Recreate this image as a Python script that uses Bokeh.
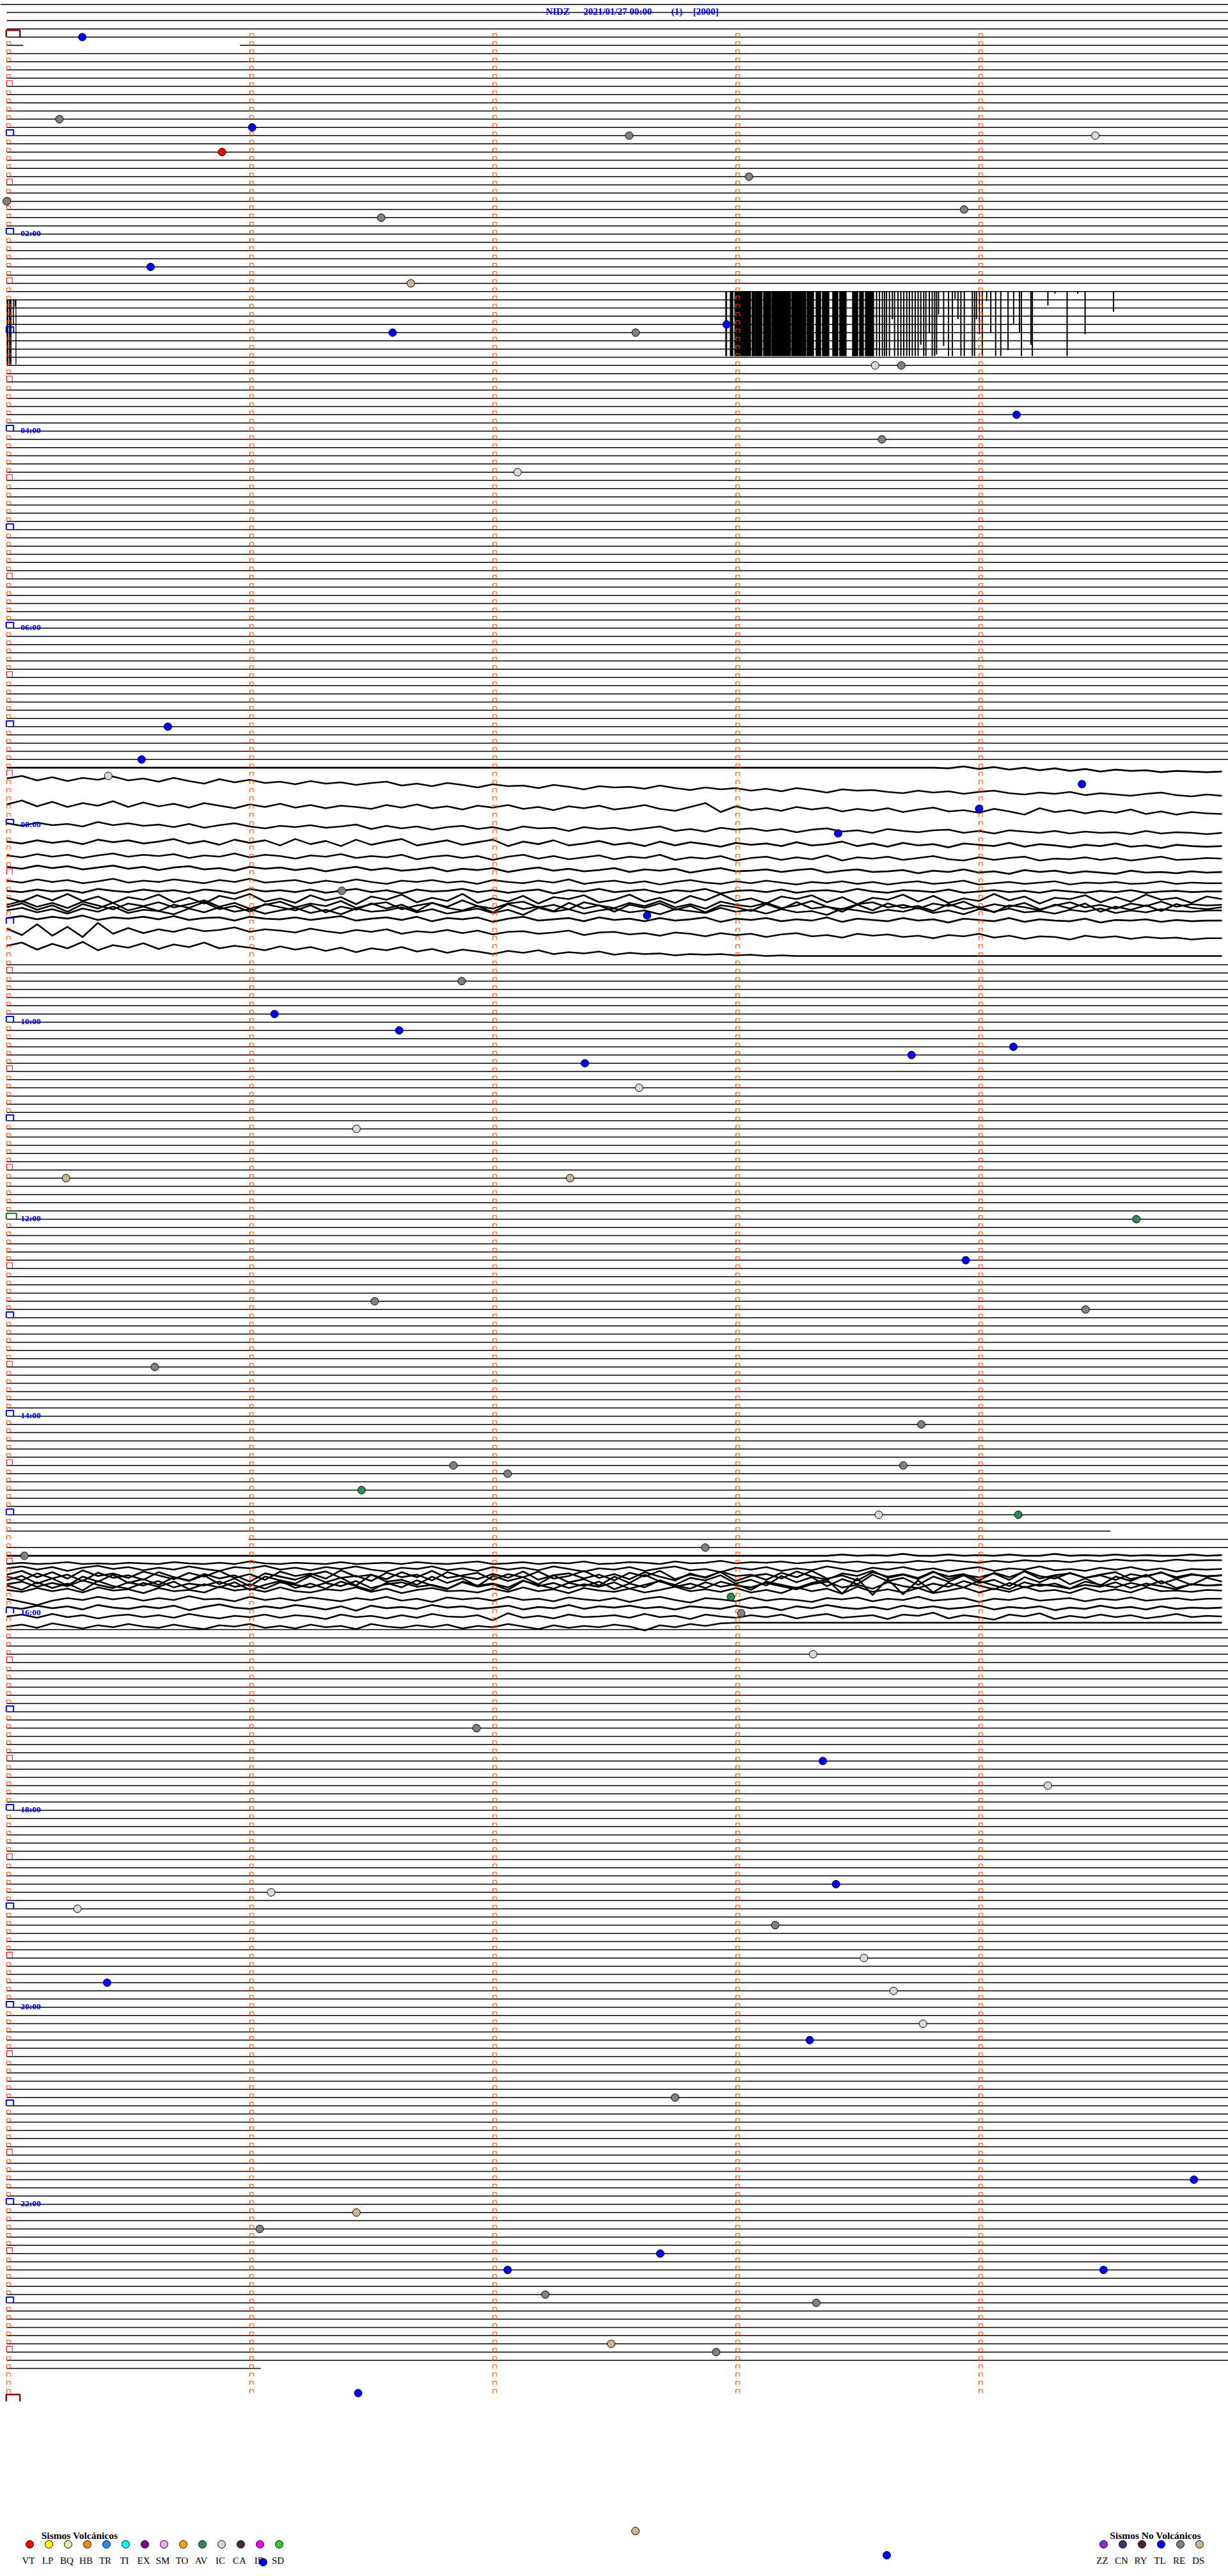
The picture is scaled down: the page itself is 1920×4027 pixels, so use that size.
from bokeh.plotting import figure
from bokeh.models import Range1d, ColumnDataSource
from bokeh.core.properties import value
from bokeh.embed import file_html
from bokeh.resources import INLINE

# ---------------------------------------------------------------- data
TITLE_PARTS = ["NIDZ", "2021/01/27 00:00", "(1)", "[2000]"]

MINUTE_TICKS = [0, 1, 2, 3, 4]          # minute marks inside each 5-minute line
N_LINES = 288                           # 24 h of 5-minute lines
LAST_DATA_LINE = 284
LAST_DATA_END = 1.045                   # minutes recorded on the last line
PREV_DAY_LINES = [-3, -2, -1]
HOUR_LINES = [24, 48, 72, 96, 120, 144, 168, 192, 216, 240, 264]
HOUR_LABELS = ["02:00", "04:00", "06:00", "08:00", "10:00", "12:00",
               "14:00", "16:00", "18:00", "20:00", "22:00"]
PARTIAL_LINES = {1: [(0.0, 0.068), (0.96, 5.03)],
                 182: [(0.0, 4.542)],
                 183: [(0.995, 5.03)]}
HIDDEN_LINES = [91, 92, 94, 95, 97, 99, 102, 108, 110, 112]

# noisy traces: (line, offsets in counts, one sample every 1/16 min)
TRACE_L089 = [0] * 62 + [1, -2, 2, -1, 3, 0, 4, 1, 5, 2, 6, 3, 5, 4, 7, 5, 6, 7, 6]
TRACE_L090 = [4, 0, 7, 2, 8, 3, 6, 1, 7, 4, 9, 3, 8, 12, 5, 10, 6, 11, 9, 13,
              8, 12, 10, 14, 11, 9, 15, 12, 16, 11, 14, 18, 13, 16, 15, 19, 14, 17, 21, 16,
              18, 17, 20, 15, 19, 22, 18, 21, 19, 23, 20, 24, 19, 22, 26, 21, 23, 22, 25, 27,
              23, 26, 24, 28, 25, 23, 27, 29, 26, 28, 25, 30, 27, 29, 31, 28, 26, 30, 32, 29, 31]
TRACE_L093 = [6, 0, 9, 2, 10, 4, 8, 1, 10, 3, 9, 5, 11, 4, 8, 12, 6, 10, 5, 11,
              7, 12, 8, 10, 13, 7, 11, 6, 12, 9, 14, 8, 11, 7, 13, 10, 15, 9, 12, 8,
              14, 11, 7, 13, 16, 10, 4, 18, 9, 15, 12, 16, 10, 14, 11, 17, 13, 16, 12, 18,
              14, 11, 17, 15, 19, 13, 17, 22, 12, 18, 15, 20, 16, 19, 14, 21, 17, 22, 18, 20, 21]
TRACE_L096 = [-3, 1, -4, 0, -2, 2, -5, 0, -3, 1, -1, 3, -2, 4, 0, -3, 2, 5, 1, 3,
              0, 4, 2, -1, 6, 1, 5, 2, 7, 3, 1, 6, 3, 8, 2, 5, 4, 9, 3, 6,
              4, 8, 5, 2, 9, 6, 10, 4, 7, 5, 9, 6, 11, 7, 5, 10, 8, 12, 6, 9,
              11, 8, 7, 12, 9, 13, 8, 10, 12, 9, 13, 10, 12, 11, 14, 9, 13, 11, 12, 14, 12]
TRACE_L098 = [0, 3, -2, 2, -1, 4, -3, 1, -2, 3, 0, -4, 3, -1, 5, -3, 2, -2, 6, -4,
              4, -1, 7, -3, 5, 0, -4, 6, 2, -2, 5, 1, -3, 7, 0, 4, -2, 6, 3, -1,
              5, 2, 7, 0, 6, 1, 4, 8, 2, 5, 3, 7, 1, 6, 4, 0, 7, 3, 8, 2,
              6, 4, 9, 3, 5, 7, 2, 8, 4, 6, 9, 5, 7, 3, 8, 6, 10, 5, 7, 8, 7]
TRACE_L100 = [-4, -1, -6, -2, -5, 0, -4, -7, -2, -5, -3, -6, 0, -4, -2, -7, -1, -5, -3, 1,
              -4, -2, -6, 0, -3, -1, -5, 2, -2, -4, 0, -3, 3, -2, -5, 1, -3, 2, -1, -4,
              2, -2, 0, -5, 3, -1, 1, -3, 4, 0, -2, 3, -1, 2, -4, 4, -1, 1, -2, 3,
              0, -3, 2, 4, -1, 3, 0, -2, 4, 1, 2, -1, 3, 0, 4, 1, -2, 3, 2, 0, 1]
TRACE_L101 = [1, 4, -1, 3, 0, 5, 2, -1, 4, 1, 6, 2, 0, 5, 3, 7, 1, 4, 2, 6,
              3, 8, 4, 1, 6, 3, 7, 5, 2, 8, 4, 6, 3, 9, 5, 2, 7, 4, 8, 6,
              3, 9, 5, 7, 4, 10, 6, 3, 8, 7, 5, 9, 6, 4, 10, 7, 5, 9, 8, 6,
              11, 7, 9, 5, 10, 8, 12, 6, 9, 7, 11, 8, 10, 12, 7, 10, 9, 11, 8, 10, 9]
TRACE_L103 = [-3, 0, -5, -1, -4, 1, -2, -6, 0, -3, -1, -5, -2, 1, -4, -1, -6, 0, -2, -4,
              1, -3, 0, -5, -1, 2, -3, -1, -4, 0, -2, 2, -4, -1, 1, -3, 0, -5, 2, -1,
              -3, 1, -2, 3, -1, -4, 0, 2, -2, 1, -3, 0, 3, -1, 1, -2, 2, -1, 3, 0,
              -2, 2, 0, -3, 3, 1, -1, 2, 0, -2, 3, 0, 1, -1, 2, 1, -2, 2, 0, 1, 1]
TRACE_L104 = [0, 2, -2, 1, -1, 3, -3, 0, 2, -2, 1, -1, 3, -2, 0, 4, -3, 1, -1, 2,
              -2, 3, 0, -3, 2, -1, 4, -2, 1, 0, -3, 2, -1, 3, 0, -2, 4, -1, 1, -3,
              2, 0, -2, 3, -1, 1, -3, 4, 0, -1, 2, -2, 3, 0, -1, 2, -3, 1, 3, -1,
              0, 2, -2, 3, 1, -1, 2, 0, 3, -1, 1, 3, 0, 2, -1, 3, 1, 0, 2, 1, 1]
TRACE_L105A = [-2, 4, -6, 2, -8, 3, -4, 6, -3, 1, -7, 5, -2, 7, -5, 0, -8, 4, -1, 6,
               -6, 2, -3, 8, -4, 1, -7, 5, -2, 3, -8, 6, -1, 4, -5, 7, -3, 0, -6, 5,
               1, -7, 4, -2, 6, -5, 2, -8, 3, -1, 7, -4, 0, -6, 5, -3, 8, -2, 1, -7,
               4, -5, 6, -1, 3, -8, 2, -4, 7, -2, 0, -6, 5, -3, 4, -7, 1, -2, 6, -4, 0]
TRACE_L105B = [9, 3, 12, 6, 14, 4, 10, 16, 7, 11, 5, 13, 8, 2, 12, 6, 15, 9, 4, 13,
               7, 11, 3, 14, 8, 5, 16, 10, 6, 12, 2, 11, 15, 7, 4, 13, 9, 16, 5, 10,
               14, 6, 11, 3, 13, 8, 15, 4, 9, 12, 6, 14, 10, 3, 12, 16, 8, 5, 13, 9,
               15, 7, 11, 4, 14, 8, 12, 6, 16, 10, 5, 13, 9, 15, 7, 11, 4, 12, 8, 10, 9]
TRACE_L106A = [0, -6, 4, -3, 7, -5, 2, -7, 5, -1, 6, -4, 1, -8, 3, -2, 7, -5, 0, 5,
               -3, 8, -1, 4, -6, 2, -4, 6, -7, 1, 5, -2, 8, -5, 3, -1, 6, -7, 2, -3,
               7, -4, 1, -6, 4, -2, 8, -3, 0, 6, -5, 3, -8, 2, -1, 7, -4, 5, -6, 1,
               -2, 6, -5, 3, -1, 8, -3, 0, 5, -4, 2, -6, 7, -1, 4, -3, 6, -5, 1, 3, 0]
TRACE_L106B = [5, 1, 8, 3, 10, 2, 7, -1, 9, 4, 6, 11, 2, 8, 0, 7, 3, 10, 5, 1,
               9, 4, 11, 2, 7, 5, 0, 8, 3, 10, 6, 2, 9, 4, 12, 1, 7, 3, 10, 5,
               2, 8, 5, 11, 3, 6, 9, 1, 7, 4, 10, 3, 8, 6, 12, 2, 5, 9, 4, 7,
               1, 9, 5, 11, 3, 7, 2, 8, 6, 10, 4, 7, 2, 9, 5, 8, 3, 6, 7, 5, 5]
TRACE_L107 = [4, 1, 6, 2, 5, 0, 7, 3, 5, 2, 6, 1, 7, 4, 3, 8, 2, 5, 6, 3,
              7, 4, 1, 8, 5, 3, 7, 2, 9, 4, 6, 3, 10, 5, 2, 8, 6, 4, 9, 3,
              7, 5, 9, 4, 8, 6, 3, 10, 5, 7, 4, 9, 6, 8, 3, 10, 5, 7, 9, 4,
              8, 6, 11, 5, 7, 9, 4, 10, 6, 8, 9, 5, 11, 7, 8, 6, 10, 7, 9, 8, 8]
TRACE_L109 = [-5, 5, -12, 6, -8, 8, -14, 3, -6, 2, -4, 0, -6, -1, -3, -7, 0, -4, -2, 1,
              -5, -1, 2, -3, 0, -4, 3, -1, 1, -3, 2, -2, 4, 0, -1, 3, 1, -2, 5, 1,
              0, 4, 2, 6, 1, 3, 7, 2, 5, 3, 8, 4, 2, 7, 5, 9, 3, 6, 4, 8,
              6, 10, 5, 7, 3, 9, 6, 11, 7, 8, 12, 6, 9, 7, 11, 8, 10, 9, 12, 10, 10]
TRACE_L111 = [-4, -9, 2, -7, 0, -10, 3, -5, -1, -8, 1, -6, -2, -9, 0, -4, -1, 3, -3, 2,
              -2, 4, -1, 6, 0, 3, -2, 5, 1, 7, 2, 5, 9, 4, 7, 3, 9, 6, 8, 5,
              10, 7, 9, 8, 11, 9, 10, 9, 11, 10, 12, 11, 12] + [12] * 28

TRACE_L185 = [0] * 55 + [-2, 0, -1, 0, -3, 0, 0, -2, 0, -1, 0, -2, 0, 0, -3, 0, -1, 0, -2, 0,
                         -1, 0, 0, -2, 0, -1]
TRACE_L186 = [0, -2, 0, -1, -3, 0, -1, 0, -2, -1, 0, -3, -1, 0, -2, 0, -4, -1, 0, -2,
              -1, 0, -3, 0, -1, -2, 0, -3, -1, 0, -2, -4, 0, -1, -3, 0, -2, -1, -4, 0,
              -1, -3, -2, 0, -4, -1, -2, -5, -1, -3, -2, -4, -1, -3, -5, -2, -4, -1, -3, -2,
              -5, -3, -6, -4, -2, -5, -3, -6, -4, -5, -3, -6, -4, -7, -5, -6, -4, -7, -5, -6, -6]
TRACE_L187A = [-6, -9, -4, -8, -2, -7, -10, -5, -8, -3, -7, -4, -9, -5, -2, -8, -6, -10, -4, -7,
               -3, -8, -5, -9, -4, -1, -7, -5, -9, -3, -6, -2, -8, -4, -7, -3, -9, -5, -1, -6,
               -4, -8, -2, -6, -9, -3, -5, 0, -7, -4, -8, -2, -6, -3, -9, -5, -1, -7, -4, -8,
               -3, -6, -1, -5, -8, -2, -6, -4, -9, -3, -5, -2, -7, -4, -8, -3, -6, -1, -5, -4, -5]
TRACE_L187B = [4, -2, 8, 0, 10, -3, 6, 2, 9, -1, 5, 11, 1, 7, -2, 9, 3, 12, -1, 6,
               2, 10, -3, 7, 4, 11, 0, 8, -2, 9, 5, 1, 12, 3, 8, -1, 10, 6, -2, 9,
               3, 11, 0, 7, 13, 2, 9, -1, 6, 4, 12, 1, 8, -2, 10, 5, 13, 0, 7, 3,
               9, -1, 11, 4, 8, 2, 12, -2, 6, 10, 1, 9, 5, 12, 3, 7, 0, 10, 4, 6, 5]
TRACE_L188A = [-6, 0, -11, -3, -9, 1, -12, -4, -8, -1, -13, -5, 0, -10, -3, -8, 2, -11, -6, -1,
               -9, -14, -4, -7, 1, -12, -5, -9, 0, -13, -6, -2, -10, -4, -14, -1, -8, -11, -3, -9,
               0, -12, -6, -15, -2, -9, -5, -13, 1, -7, -10, -3, -14, -6, -1, -11, -7, -15, -4, -9,
               -2, -13, -6, -10, 0, -12, -5, -14, -3, -8, -11, -4, -9, -13, -2, -7, -12, -5, -10, -6, -8]
TRACE_L188B = [0, -7, 5, -3, 8, -6, 2, -9, 4, -2, 7, -5, 1, -8, 6, -3, 9, -6, 0, 5,
               -7, 3, -4, 8, -9, 2, -1, 7, -6, 4, -3, 9, -7, 1, -5, 6, -8, 3, -2, 8,
               -6, 4, -9, 2, 7, -4, 0, -8, 5, -1, 8, -7, 3, -5, 9, -2, 6, -9, 1, -4,
               7, -6, 2, -8, 4, -1, 9, -5, 3, -7, 6, -3, 8, -6, 1, -9, 5, -2, 7, -4, 2]
TRACE_L188C = [6, 2, 10, 4, 9, 0, 7, 12, 3, 8, 1, 11, 5, 8, 2, 10, 6, 13, 3, 7,
               11, 4, 9, 1, 12, 6, 3, 10, 7, 13, 2, 8, 5, 11, 0, 9, 4, 12, 6, 10,
               3, 13, 7, 1, 10, 5, 12, 2, 8, 11, 4, 9, 14, 6, 2, 11, 7, 13, 3, 9,
               12, 5, 10, 1, 8, 14, 4, 11, 6, 9, 13, 7, 10, 3, 12, 5, 9, 14, 6, 8, 7]
TRACE_L189A = [-5, 2, -10, -1, -8, 3, -12, -4, 0, -9, -3, -11, 1, -7, -2, -10, 2, -6, -12, -1,
               -8, 0, -11, -4, 3, -9, -2, -13, -5, 1, -10, -3, -7, 2, -12, -6, 0, -9, -4, -11,
               1, -8, -2, -13, -5, 0, -10, -3, -7, 2, -11, -6, -1, -9, -14, 8, -16, 10, -15, 9,
               -13, 6, -9, -2, -12, -5, 1, -10, -4, -8, 0, -11, -6, -2, -9, -4, -12, -1, -7, -5, -6]
TRACE_L189B = [2, 5, -1, 4, 0, 6, -2, 3, 1, 7, -1, 4, 2, 6, -3, 3, 0, 5, -2, 4,
               6, 1, 3, -2, 5, 0, 7, 2, -1, 4, 3, 6, 0, 5, -2, 4, 1, 7, -1, 3,
               5, 0, 6, 2, -3, 4, 1, 5, -1, 6, 2, 7, -2, 4, 0, 8, -3, 5, 1, 6,
               -1, 7, 3, -2, 6, 0, 5, -3, 4, 2, 7, -1, 5, 1, 6, -2, 4, 3, 5, 2, 3]
TRACE_L190 = [3, 8, 13, 6, 2, 5, 0, 4, 1, 6, 2, 5, -1, 4, 3, 7, 0, 5, 2, 6,
              1, 4, 7, 2, 5, 0, 6, 3, 8, 1, 4, 2, 6, 0, 5, 3, 7, 1, 4, 6,
              2, 8, 3, 0, 5, 9, 2, 4, 7, 1, 6, 3, 5, 8, 2, 4, 1, 7, 3, 5,
              0, 6, 4, 2, 8, 3, 5, 1, 6, 4, 2, 7, 3, 5, 1, 6, 4, 2, 5, 3, 3]
TRACE_L191 = [3, 6, 1, 5, 2, 7, 0, 4, 6, 2, 5, 1, 8, 3, -1, 4, 6, 2, 5, 0,
              3, 7, 2, 9, 1, 5, 3, 6, 0, 4, 2, 6, 4, 1, 7, 3, 5, 0, 6, 2,
              4, 1, 5, 3, 7, 2, 4, 6, 1, 5, 3, 8, 2, 5, 0, 4, 6, 3, 7, 1,
              5, 2, 6, 4, 1, 7, 3, 5, 2, 8, 4, 6, 1, 5, 3, 7, 2, 6, 4, 5, 4]
TRACE_L192 = [5, 2, 7, 1, 6, 3, 8, 4, 2, 6, 3, 7, 1, 5, 8, 4, 6, 2, 7, 3,
              5, 9, 2, 6, 4, 8, 3, 7, 1, 5, 6, 3, 11, 0, 7, 4, 8, 2, 6, 5,
              3, 7, 1, 6, 4, 9, 2, 5, 7, 3, 6, 2, 8, 4, 1, 7, 5, 3, 9, 2,
              4, -1, 8, 3, 6, 10, 2, 5, 0, 9, 4, 7, 2, 6, 3, 8, 5, 1, 6, 4, 5]
TRACE_L193 = [8, 5, 10, 3, 7, 11, 6, 9, 4, 8, 10, 5, 9, 12, 6, 8, 4, 10, 7, 11,
              5, 9, 7, 12, 4, 8, 10, 6, 9, 5, 11, 7, 9, 4, 8, 12, 6, 10, 7, 9,
              5, 8, 14, 6, 9, 4, 7, 3, 2, 2] + [2] * 31

TRACES = [(89, TRACE_L089), (90, TRACE_L090), (93, TRACE_L093), (96, TRACE_L096),
          (98, TRACE_L098), (100, TRACE_L100), (101, TRACE_L101), (103, TRACE_L103),
          (104, TRACE_L104), (105, TRACE_L105A), (105, TRACE_L105B), (106, TRACE_L106A),
          (106, TRACE_L106B), (107, TRACE_L107), (109, TRACE_L109), (111, TRACE_L111),
          (185, TRACE_L185), (186, TRACE_L186), (187, TRACE_L187A), (187, TRACE_L187B),
          (188, TRACE_L188A), (188, TRACE_L188B), (188, TRACE_L188C), (189, TRACE_L189A),
          (189, TRACE_L189B), (190, TRACE_L190), (191, TRACE_L191), (192, TRACE_L192),
          (193, TRACE_L193)]
SAMPLES_PER_MIN = 16

# saturated burst 02:35 - 02:40 (hangs from line 31)
BURST_LINE = 31
BLOCK_START = [2.957, 2.976, 2.995, 3.066, 3.079, 3.113, 3.147, 3.229, 3.292, 3.329,
               3.355, 3.397, 3.426, 3.479, 3.508, 3.532]
BLOCK_END = [2.963, 2.989, 3.062, 3.078, 3.109, 3.145, 3.226, 3.289, 3.321, 3.350,
             3.384, 3.421, 3.455, 3.503, 3.526, 3.568]
BLOCK_BOTTOM = 38.85
SPIKE_X = [3.579, 3.591, 3.603, 3.612, 3.620, 3.632, 3.644, 3.653, 3.667, 3.679,
           3.691, 3.703, 3.714, 3.726, 3.738, 3.750, 3.761, 3.773, 3.782, 3.796,
           3.808, 3.818, 3.826, 3.834, 3.855, 3.875, 3.891, 3.902, 3.914, 3.926,
           3.940, 3.973, 3.982, 3.990, 4.002, 4.014, 4.032, 4.049, 4.069, 4.090,
           4.120, 4.143, 4.167, 4.175, 4.214, 4.220, 4.284, 4.313, 4.363, 4.407,
           4.437, 4.554]
SPIKE_BOTTOM = [38.85, 38.85, 38.85, 38.85, 38.85, 38.85, 34.37, 38.85, 38.85, 38.85,
                38.85, 38.85, 38.85, 38.85, 38.85, 38.85, 37.49, 38.85, 38.85, 36.06,
                38.85, 38.85, 38.66, 33.8, 37.62, 38.85, 38.85, 31.9, 34.37, 38.85,
                38.85, 38.85, 38.85, 34.37, 36.2, 38.85, 32.17, 36.06, 38.85, 38.85,
                38.14, 34.9, 35.93, 38.85, 37.49, 38.85, 32.69, 31.26, 38.85, 31.26,
                36.2, 33.47]
LEFT_BURST_LINE = 32
LEFT_START = [0.0, 0.0105, 0.026, 0.033, 0.037]
LEFT_END = [0.006, 0.019, 0.029, 0.037, 0.039]
LEFT_BOTTOM = [39.88, 39.88, 35.03, 32.8, 39.88]

# events: line index, minute within line, type
EV_LINE = [0, 10, 11, 12, 12, 14, 17, 20, 22, 21, 28, 30, 36, 36, 35, 40, 40, 46, 49, 53,
           84, 88, 90, 91, 94, 97, 104, 107, 115, 119, 121, 125, 124, 123, 128, 133, 139, 139,
           144, 149, 154, 155, 162, 169, 174, 175, 174, 177, 180, 180, 185, 184, 190, 192, 197,
           206, 210, 213, 225, 228, 226, 230, 234, 237, 238, 242, 244, 251, 261, 265, 267, 270,
           272, 272, 275, 276, 281, 282, 287, 303.8, 306.75, 307.6]
EV_MIN = [0.311, 0.217, 1.010, 2.561, 4.479, 0.886, 3.054, 0.0, 1.541, 3.939, 0.592, 1.663,
          1.588, 2.588, 2.962, 3.573, 3.681, 4.155, 3.601, 2.102,
          0.663, 0.555, 0.418, 4.424, 4.001, 3.421, 1.379, 2.635, 1.872, 1.102, 1.615, 2.379,
          3.723, 4.142, 2.602, 1.439, 0.244, 2.318,
          4.648, 3.946, 1.514, 4.439, 0.609, 3.763, 1.838, 2.061, 3.689, 1.460, 3.588, 4.162,
          0.073, 2.874, 2.980, 3.022, 3.318,
          1.933, 3.358, 4.284, 3.412, 0.291, 1.088, 3.162, 3.527, 0.413, 3.649, 3.770, 3.304,
          2.750, 4.885, 1.439, 1.041, 2.689,
          2.061, 4.513, 2.216, 3.331, 2.487, 2.919, 1.446, 2.587, 3.621, 1.055]
EV_TYPE = ["TL", "RE", "TL", "RE", "IC", "VT", "RE", "RE", "RE", "RE", "TL", "DS", "TL", "RE",
           "TL", "IC", "RE", "TL", "RE", "IC",
           "TL", "TL", "IC", "TL", "TL", "TL", "RE", "TL", "RE", "TL", "TL", "TL", "TL", "TL",
           "IC", "IC", "DS", "DS",
           "AV", "TL", "RE", "RE", "RE", "RE", "RE", "RE", "RE", "AV", "IC", "AV", "RE", "RE",
           "AV", "RE", "IC",
           "RE", "TL", "IC", "TL", "IC", "IC", "RE", "IC", "TL", "IC", "IC", "TL", "RE", "TL",
           "DS", "RE", "TL",
           "TL", "TL", "RE", "RE", "DS", "RE", "TL", "DS", "TL", "TL"]

# legend
VOLC_TITLE = "Sismos Volcánicos"
VOLC_CODES = ["VT", "LP", "BQ", "HB", "TR", "TI", "EX", "SM", "TO", "AV", "IC", "CA", "IF", "SD"]
VOLC_COLORS = ["#FF0000", "#FFFF00", "#EEE8AA", "#FF8C00", "#1E90FF", "#00FFFF", "#8B008B",
               "#EEA8EE", "#FFA500", "#2E8B57", "#D3D3D3", "#4A2A4A", "#FF00FF", "#32CD32"]
NONVOLC_TITLE = "Sismos No Volcánicos"
NONVOLC_CODES = ["ZZ", "CN", "RY", "TL", "RE", "DS"]
NONVOLC_COLORS = ["#8A2BE2", "#483060", "#4B2040", "#0000FF", "#808080", "#D2B48C"]

# ---------------------------------------------------------------- layout / style
PX_PER_MIN = 380.0
PX_PER_LINE = 12.833
W, H = 1920, 4027
X0 = -10.0 / PX_PER_MIN          # page left edge, in minutes
Y0 = -57.5 / PX_PER_LINE         # page top edge, in lines
LINE_END = 5.03
SERIF = value("Liberation Serif")


def dx(px):
    return px / PX_PER_MIN


def dy(px):
    return px / PX_PER_LINE


p = figure(width=W, height=H, output_backend="svg", toolbar_location=None,
           x_range=Range1d(X0, X0 + W / PX_PER_MIN),
           y_range=Range1d(Y0 + H / PX_PER_LINE, Y0),
           x_axis_type=None, y_axis_type=None, min_border=0)
p.outline_line_color = None
p.background_fill_color = "white"
p.border_fill_color = "white"

# ---- flat lines
traced = {k for k, _ in TRACES}
fx, fy = [], []
fx.append([X0, LINE_END]); fy.append([Y0 + dy(6.5), Y0 + dy(6.5)])   # top rule
for k in PREV_DAY_LINES:
    fx.append([0.0, LINE_END]); fy.append([k, k])
for k in range(LAST_DATA_LINE + 1):
    if k in traced or k in HIDDEN_LINES:
        continue
    if k == LAST_DATA_LINE:
        segs = [(0.0, LAST_DATA_END)]
    else:
        segs = PARTIAL_LINES.get(k, [(0.0, LINE_END)])
    for s, e in segs:
        fx.append([s, e]); fy.append([k, k])
p.multi_line(xs=fx, ys=fy, line_color="black", line_width=1.5)

# ---- saturated burst
p.quad(left=BLOCK_START, right=BLOCK_END, top=[BURST_LINE] * len(BLOCK_START),
       bottom=[BLOCK_BOTTOM] * len(BLOCK_START), fill_color="black", line_color="black",
       line_width=0.5)
p.segment(x0=SPIKE_X, y0=[BURST_LINE] * len(SPIKE_X), x1=SPIKE_X, y1=SPIKE_BOTTOM,
          line_color="black", line_width=2)
p.quad(left=LEFT_START, right=LEFT_END, top=[LEFT_BURST_LINE] * len(LEFT_START),
       bottom=LEFT_BOTTOM, fill_color="black", line_color="black", line_width=0.5)

# ---- noisy traces
tx, ty = [], []
for k, vals in TRACES:
    tx.append([i / SAMPLES_PER_MIN for i in range(len(vals))])
    ty.append([k + dy(v) for v in vals])
p.multi_line(xs=tx, ys=ty, line_color="black", line_width=2.6, line_join="round")


# ---- minute / time markers
def bracket(m, k, wpx, hpx, xoff=0.0):
    x0 = m + dx(xoff)
    return [x0, x0, x0 + dx(wpx), x0 + dx(wpx)], [k, k - dy(hpx), k - dy(hpx), k]


big = {0, 144, N_LINES} | set(range(6, N_LINES, 6))
sx, sy = [], []
for k in range(N_LINES):
    for m in MINUTE_TICKS:
        if m == 0 and k in big:
            continue
        a, b = bracket(m, k, 5.7, 5.7)
        sx.append(a); sy.append(b)
p.multi_line(xs=sx, ys=sy, line_color="#FF4500", line_width=1)

hx, hy, bx, by = [], [], [], []
for k in range(6, N_LINES, 6):
    if k % 12 == 6:
        a, b = bracket(0, k, 8.7, 9.0)
        hx.append(a); hy.append(b)
    elif k != 144:
        a, b = bracket(0, k, 11.4, 9.0, -0.7)
        bx.append(a); by.append(b)
p.multi_line(xs=hx, ys=hy, line_color="#FF0000", line_width=1.1)
p.multi_line(xs=bx, ys=by, line_color="#0000FF", line_width=2)
gx, gy = bracket(0, 144, 16, 9.3, -0.7)
p.line(gx, gy, line_color="#008000", line_width=2)
for k in (0, N_LINES):
    a, b = bracket(0, k, 21.4, 10.6, -0.7)
    p.line(a, b, line_color="#8B0000", line_width=2.4)

# ---- hour labels
p.text(x=[dx(21.7)] * len(HOUR_LINES), y=[k - dy(1.0) for k in HOUR_LINES], text=HOUR_LABELS,
       text_font=SERIF, text_font_style="bold", text_font_size="13.5px",
       text_color="#0000FF", text_baseline="alphabetic", text_align="left")

# ---- title
title_x = [dx(842.7), dx(901.7), dx(1039), dx(1073)]
p.text(x=title_x, y=[Y0 + dy(17.5)] * 4, text=TITLE_PARTS, text_font=SERIF,
       text_font_style="bold", text_font_size="15px", text_color="#0000FF",
       text_baseline="alphabetic", text_align="left")

# ---- events
color_of = dict(zip(VOLC_CODES + NONVOLC_CODES, VOLC_COLORS + NONVOLC_COLORS))
color_of["RE"] = "#808080"
color_of["IC"] = "#D8D8D8"
ev = ColumnDataSource(dict(x=EV_MIN, y=EV_LINE, c=[color_of[t] for t in EV_TYPE]))
p.scatter(x="x", y="y", source=ev, marker="circle", size=12, fill_color="c",
          line_color="black", line_width=1)

# ---- legend
leg_y = Y0 + dy(3977)
lab_y = Y0 + dy(4002)
tit_y = Y0 + dy(3963)
vx = [dx(36) + i * dx(30) for i in range(len(VOLC_CODES))]
nx = [dx(1715) + i * dx(30) for i in range(len(NONVOLC_CODES))]
p.scatter(x=vx + nx, y=[leg_y] * (len(vx) + len(nx)), marker="circle", size=12,
          fill_color=VOLC_COLORS + NONVOLC_COLORS, line_color="black", line_width=1)
p.text(x=[v - dx(2) for v in vx + nx], y=[lab_y] * (len(vx) + len(nx)),
       text=VOLC_CODES + NONVOLC_CODES, text_font=SERIF, text_font_size="15px",
       text_color="black", text_align="center", text_baseline="alphabetic")
p.text(x=[dx(114), dx(1796)], y=[tit_y, tit_y], text=[VOLC_TITLE, NONVOLC_TITLE],
       text_font=SERIF, text_font_style="bold", text_font_size="15.5px",
       text_color="black", text_align="center", text_baseline="alphabetic")

open("out.html", "w").write(file_html(p, INLINE))
